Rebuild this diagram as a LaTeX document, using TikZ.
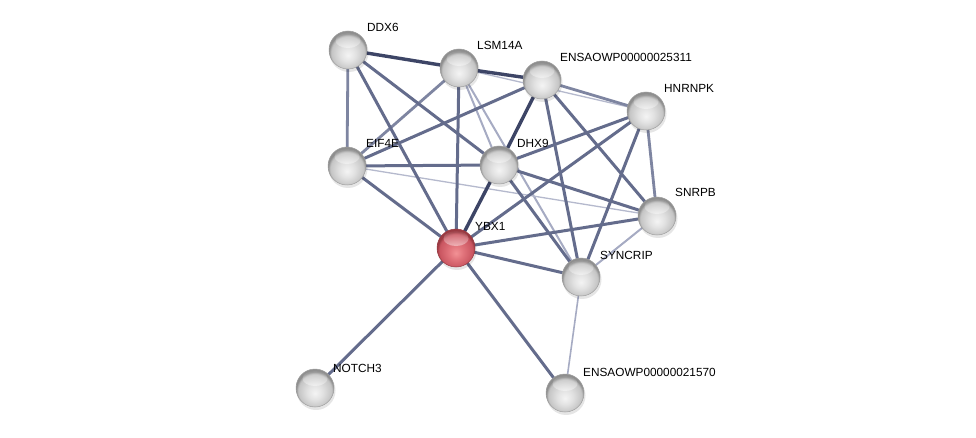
\documentclass[tikz,border=0pt]{standalone}
\usepackage{fontspec}
\setmainfont{Liberation Sans}
\usetikzlibrary{calc,fadings}
\definecolor{edark}{HTML}{3D4566}
\definecolor{emed}{HTML}{646C8C}
\definecolor{elmed}{HTML}{7E85A1}
\definecolor{elight}{HTML}{A6ABC3}
\definecolor{ethin}{HTML}{B5B9CD}
\definecolor{gA}{HTML}{F4F4F4}
\definecolor{gB}{HTML}{E2E2E2}
\definecolor{gC}{HTML}{C4C4C4}
\definecolor{gD}{HTML}{8E8E8E}
\definecolor{rA}{HTML}{F29195}
\definecolor{rB}{HTML}{E0727A}
\definecolor{rC}{HTML}{C95560}
\definecolor{rD}{HTML}{9A3A42}
\pgfdeclareradialshading{sphg}{\pgfqpoint{0bp}{-7bp}}{color(0bp)=(gA); color(10bp)=(gB); color(22bp)=(gC); color(25bp)=(gD); color(50bp)=(gD)}
\pgfdeclareradialshading{sphr}{\pgfqpoint{0bp}{-7bp}}{color(0bp)=(rA); color(10bp)=(rB); color(22bp)=(rC); color(25bp)=(rD); color(50bp)=(rD)}
\tikzfading[name=hlfade, top color=transparent!0, bottom color=transparent!100]
\begin{document}
\begin{tikzpicture}[x=1pt,y=-1pt,
  hl/.style={path picture={\fill[white,path fading=hlfade,fading transform={yscale=-1}] ($(path picture bounding box.center)+(0,-9.5)$) ellipse (12.5 and 7.5);}},
  prot/.style={circle,minimum size=38pt,inner sep=0pt,shading=sphg,draw=gray!75,line width=0.5pt,hl},
  query/.style={circle,minimum size=38pt,inner sep=0pt,shading=sphr,draw=rD,line width=0.5pt,hl},
  lab/.style={anchor=base west,inner sep=0pt,font=\fontsize{11.8}{12}\selectfont},
  dk/.style={draw=edark,line width=3.4pt},
  md/.style={draw=emed,line width=3pt},
  lm/.style={draw=elmed,line width=2.8pt},
  lt/.style={draw=elight,line width=2pt},
  th/.style={draw=ethin,line width=1.3pt}]
\useasboundingbox (0,0) rectangle (976,438);
\fill[white] (0,0) rectangle (976,438);
% node positions
\coordinate (DDX6) at (348,50);
\coordinate (LSM) at (459,68);
\coordinate (E311) at (542,80);
\coordinate (HNR) at (646,111);
\coordinate (EIF) at (347,166);
\coordinate (DHX) at (499,165);
\coordinate (SNR) at (657,216);
\coordinate (YBX) at (456,248);
\coordinate (SYN) at (581,277);
\coordinate (NOT) at (315,388);
\coordinate (E570) at (565,393);
% edges
\draw[lt] (LSM) -- (DHX);
\draw[lt] (LSM) -- (SYN);
\draw[th] (LSM) -- (HNR);
\draw[th] (EIF) -- (SNR);
\draw[lt] (SNR) -- (SYN);
\draw[lt,line width=1.6pt] (SYN) -- (E570);
\draw[lm] (DDX6) -- (EIF);
\draw[lm] (LSM) -- (EIF);
\draw[lm] (E311) -- (HNR);
\draw[lm] (HNR) -- (SNR);
\draw[md] (DDX6) -- (YBX);
\draw[md] (DDX6) -- (DHX);
\draw[md] (LSM) -- (YBX);
\draw[md] (E311) -- (EIF);
\draw[md] (E311) -- (SYN);
\draw[md] (E311) -- (SNR);
\draw[md] (HNR) -- (DHX);
\draw[md] (HNR) -- (YBX);
\draw[md] (HNR) -- (SYN);
\draw[md] (EIF) -- (DHX);
\draw[md] (EIF) -- (YBX);
\draw[md] (DHX) -- (SNR);
\draw[md] (DHX) -- (SYN);
\draw[md] (YBX) -- (SNR);
\draw[md] (YBX) -- (SYN);
\draw[md] (YBX) -- (NOT);
\draw[md] (YBX) -- (E570);
\draw[dk] (DDX6) -- (LSM);
\draw[dk] (LSM) -- (E311);
\draw[dk] (E311) -- (DHX);
\draw[dk] (DHX) -- (YBX);
% shadows
\foreach \c in {DDX6,LSM,E311,HNR,EIF,DHX,SNR,YBX,SYN,NOT,E570}{
  \fill[black,opacity=0.10] ($(\c)+(1,2.5)$) circle (19.5pt);
}
% spheres
\node[prot] (nDDX6) at (DDX6) {};
\node[prot] (nLSM) at (LSM) {};
\node[prot] (nE311) at (E311) {};
\node[prot] (nHNR) at (HNR) {};
\node[prot] (nEIF) at (EIF) {};
\node[prot] (nDHX) at (DHX) {};
\node[prot] (nSNR) at (SNR) {};
\node[query] (nYBX) at (YBX) {};
\node[prot] (nSYN) at (SYN) {};
\node[prot] (nNOT) at (NOT) {};
\node[prot] (nE570) at (E570) {};
% labels
\node[lab] (tDDX6) at (367,32) {DDX6};
\node[lab] (tLSM) at (477,50) {LSM14A};
\node[lab] (tE311) at (560,62) {ENSAOWP00000025311};
\node[lab] (tHNR) at (664,93) {HNRNPK};
\node[lab] (tEIF) at (366,148) {EIF4E};
\node[lab] (tDHX) at (517,148) {DHX9};
\node[lab] (tSNR) at (675,197) {SNRPB};
\node[lab] (tYBX) at (475,230) {YBX1};
\node[lab] (tSYN) at (600,259) {SYNCRIP};
\node[lab] (tNOT) at (333,372) {NOTCH3};
\node[lab] (tE570) at (583,376) {ENSAOWP00000021570};
\end{tikzpicture}
\end{document}
